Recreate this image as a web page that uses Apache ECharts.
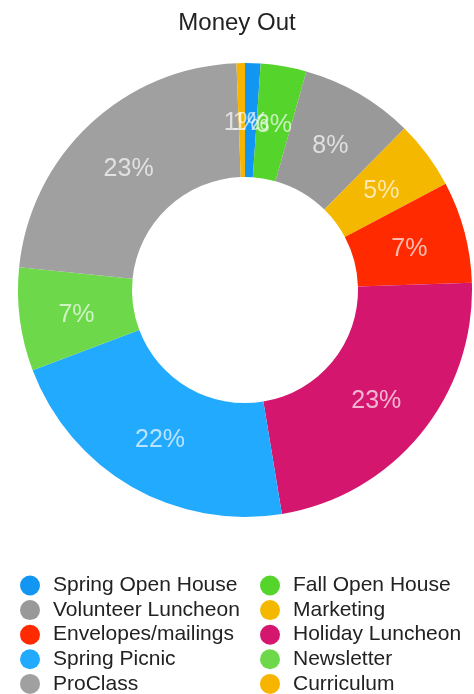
<!DOCTYPE html>
<html>
<head>
<meta charset="utf-8">
<script src="https://cdn.jsdelivr.net/npm/echarts@6/dist/echarts.min.js"></script>
<style>
html,body{margin:0;padding:0;background:#fff;}
#chart{width:474px;height:694px;}
</style>
</head>
<body>
<div id="chart"></div>
<script>
const categories = ['Spring Open House','Fall Open House','Volunteer Luncheon','Marketing','Envelopes/mailings','Holiday Luncheon','Spring Picnic','Newsletter','ProClass','Curriculum'];
const values = [1.1, 3.25, 8.05, 4.85, 7.25, 22.9, 21.85, 7.35, 22.8, 0.6];
const colors = ['#1296f2','#55d42c','#999999','#f5b800','#ff2a00','#d4166e','#22aaff','#6cd84a','#a0a0a0','#f7b500'];
const leftLegend = ['Spring Open House','Volunteer Luncheon','Envelopes/mailings','Spring Picnic','ProClass'];
const rightLegend = ['Fall Open House','Marketing','Holiday Luncheon','Newsletter','Curriculum'];

const total = values.reduce((a, b) => a + b, 0);
// label anchors: mid-angle of each slice (in percent of the circle), mid-radius of the ring
let acc = 0;
const labelPoints = values.map((v, i) => {
  const mid = (acc + v / 2) / total * 100;
  acc += v;
  return {value: [170, mid], pct: Math.round(v / total * 100)};
});

const chart = echarts.init(document.getElementById('chart'));
const legendCommon = {
  orient: 'vertical',
  top: 570,
  height: 130,
  icon: 'circle',
  itemWidth: 20,
  itemHeight: 20,
  itemGap: 3.6,
  selectedMode: false,
  textStyle: {fontFamily: 'Liberation Sans', fontSize: 21, color: '#222', lineHeight: 20, padding: [0,0,0,8]}
};
chart.setOption({
  animation: false,
  color: colors,
  title: {
    text: 'Money Out', left: 'center', top: 6,
    textStyle: {fontFamily: 'Liberation Sans', fontSize: 24, fontWeight: 'normal', color: '#222'}
  },
  legend: [
    Object.assign({}, legendCommon, {left: 15, data: leftLegend}),
    Object.assign({}, legendCommon, {left: 255, data: rightLegend})
  ],
  polar: {center: [245, 290], radius: 227},
  angleAxis: {type: 'value', min: 0, max: 100, startAngle: 90, clockwise: true, show: false},
  radiusAxis: {type: 'value', min: 0, max: 227, show: false},
  series: [{
    type: 'pie',
    center: [245, 290],
    radius: [113, 227],
    startAngle: 90,
    clockwise: true,
    label: {show: false},
    labelLine: {show: false},
    data: categories.map((c, i) => ({name: c, value: values[i]}))
  }, {
    type: 'scatter',
    coordinateSystem: 'polar',
    symbolSize: 0,
    silent: true,
    z: 10,
    label: {
      show: true,
      position: 'inside',
      offset: [0, 3],
      formatter: p => p.data.pct + '%',
      fontFamily: 'Liberation Sans',
      fontSize: 25,
      color: 'rgba(255,255,255,0.85)'
    },
    data: labelPoints
  }]
});
</script>
</body>
</html>
